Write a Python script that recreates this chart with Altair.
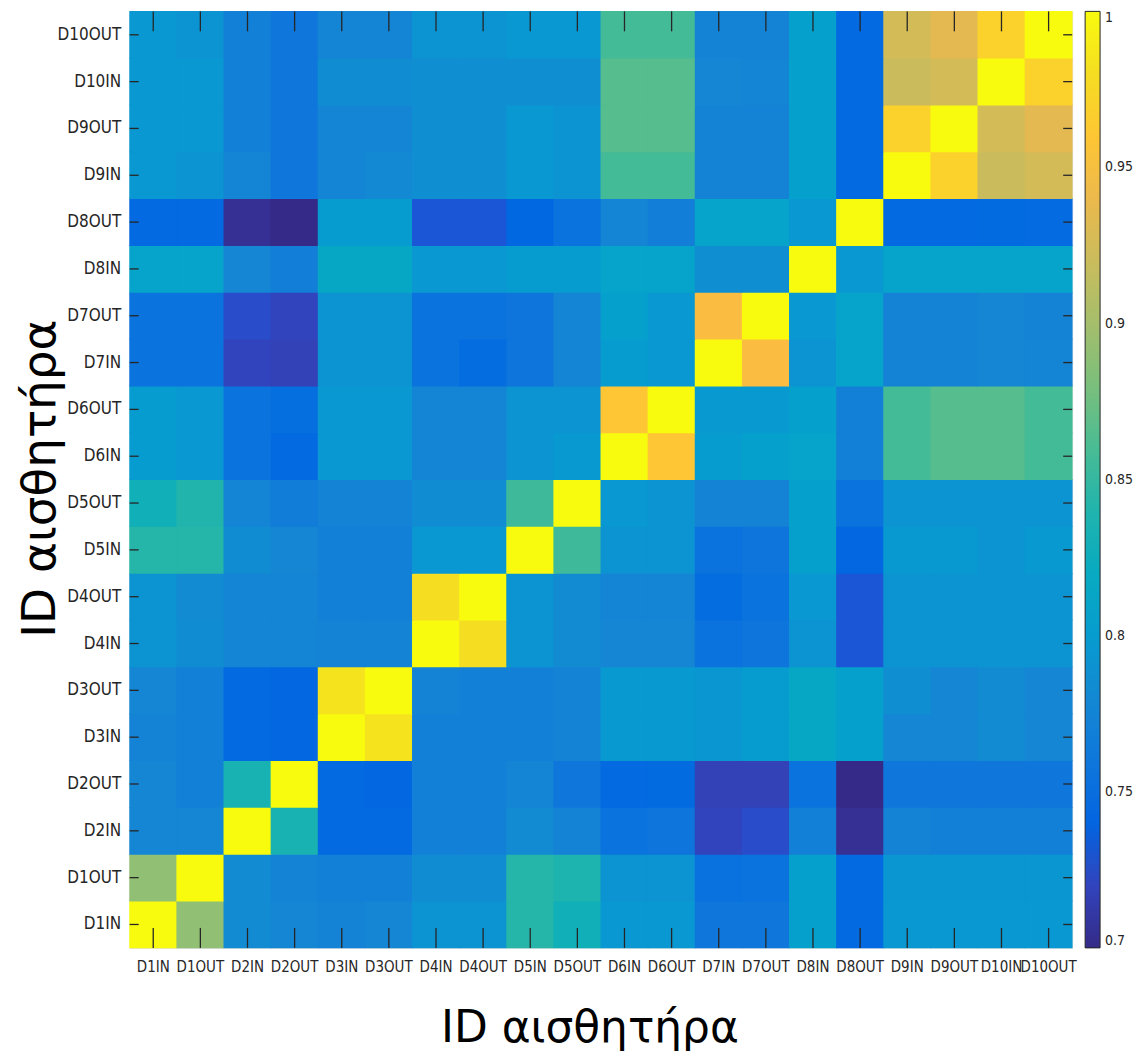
import altair as alt
import pandas as pd

sensors = ["D1IN", "D1OUT", "D2IN", "D2OUT", "D3IN", "D3OUT", "D4IN", "D4OUT",
           "D5IN", "D5OUT", "D6IN", "D6OUT", "D7IN", "D7OUT", "D8IN", "D8OUT",
           "D9IN", "D9OUT", "D10IN", "D10OUT"]

r_D1IN = [1.0, 0.89, 0.783, 0.777, 0.773, 0.777, 0.79, 0.79, 0.843, 0.83, 0.795, 0.795, 0.76, 0.76, 0.805, 0.745, 0.795, 0.795, 0.795, 0.795]
r_D1OUT = [0.89, 1.0, 0.783, 0.773, 0.77, 0.77, 0.785, 0.785, 0.843, 0.838, 0.79, 0.79, 0.753, 0.755, 0.805, 0.745, 0.793, 0.793, 0.793, 0.793]
r_D2IN = [0.777, 0.777, 1.0, 0.835, 0.745, 0.745, 0.77, 0.77, 0.783, 0.773, 0.755, 0.757, 0.72, 0.725, 0.77, 0.705, 0.773, 0.77, 0.77, 0.77]
r_D2OUT = [0.777, 0.77, 0.835, 1.0, 0.745, 0.742, 0.77, 0.77, 0.776, 0.76, 0.745, 0.746, 0.718, 0.718, 0.755, 0.70, 0.76, 0.76, 0.76, 0.76]
r_D3IN = [0.773, 0.77, 0.745, 0.742, 1.0, 0.985, 0.77, 0.77, 0.77, 0.773, 0.797, 0.797, 0.793, 0.80, 0.815, 0.805, 0.777, 0.777, 0.783, 0.777]
r_D3OUT = [0.777, 0.77, 0.745, 0.742, 0.985, 1.0, 0.773, 0.77, 0.77, 0.773, 0.797, 0.797, 0.793, 0.80, 0.815, 0.805, 0.787, 0.777, 0.783, 0.777]
r_D4IN = [0.79, 0.785, 0.775, 0.775, 0.773, 0.773, 1.0, 0.98, 0.79, 0.783, 0.777, 0.777, 0.755, 0.757, 0.79, 0.73, 0.79, 0.79, 0.79, 0.79]
r_D4OUT = [0.79, 0.783, 0.775, 0.775, 0.77, 0.77, 0.98, 1.0, 0.79, 0.783, 0.775, 0.775, 0.748, 0.755, 0.795, 0.73, 0.79, 0.79, 0.79, 0.79]
r_D5IN = [0.843, 0.843, 0.785, 0.777, 0.77, 0.77, 0.795, 0.795, 1.0, 0.855, 0.79, 0.79, 0.755, 0.757, 0.805, 0.742, 0.797, 0.797, 0.79, 0.797]
r_D5OUT = [0.83, 0.84, 0.775, 0.767, 0.773, 0.773, 0.785, 0.785, 0.855, 1.0, 0.795, 0.79, 0.773, 0.773, 0.805, 0.755, 0.79, 0.79, 0.79, 0.79]
r_D6IN = [0.80, 0.795, 0.755, 0.745, 0.795, 0.795, 0.775, 0.775, 0.79, 0.797, 1.0, 0.96, 0.80, 0.805, 0.81, 0.77, 0.858, 0.865, 0.865, 0.858]
r_D6OUT = [0.80, 0.795, 0.755, 0.75, 0.795, 0.795, 0.775, 0.775, 0.79, 0.79, 0.96, 1.0, 0.797, 0.797, 0.805, 0.77, 0.858, 0.865, 0.865, 0.858]
r_D7IN = [0.755, 0.755, 0.72, 0.718, 0.79, 0.79, 0.755, 0.748, 0.757, 0.775, 0.80, 0.795, 1.0, 0.95, 0.79, 0.81, 0.773, 0.773, 0.777, 0.775]
r_D7OUT = [0.755, 0.755, 0.725, 0.72, 0.79, 0.79, 0.755, 0.755, 0.757, 0.775, 0.805, 0.795, 0.95, 1.0, 0.795, 0.81, 0.773, 0.773, 0.777, 0.773]
r_D8IN = [0.81, 0.81, 0.777, 0.768, 0.815, 0.815, 0.795, 0.795, 0.80, 0.80, 0.808, 0.808, 0.787, 0.787, 1.0, 0.795, 0.81, 0.81, 0.81, 0.81]
r_D8OUT = [0.745, 0.745, 0.705, 0.70, 0.80, 0.80, 0.73, 0.73, 0.743, 0.755, 0.775, 0.768, 0.81, 0.81, 0.795, 1.0, 0.745, 0.745, 0.746, 0.747]
r_D9IN = [0.795, 0.79, 0.775, 0.76, 0.775, 0.78, 0.787, 0.787, 0.795, 0.79, 0.858, 0.858, 0.773, 0.773, 0.805, 0.745, 1.0, 0.97, 0.92, 0.925]
r_D9OUT = [0.795, 0.795, 0.77, 0.76, 0.775, 0.775, 0.787, 0.787, 0.795, 0.79, 0.865, 0.865, 0.773, 0.773, 0.805, 0.745, 0.97, 1.0, 0.925, 0.935]
r_D10IN = [0.795, 0.795, 0.77, 0.76, 0.785, 0.785, 0.787, 0.787, 0.787, 0.787, 0.865, 0.865, 0.777, 0.775, 0.805, 0.745, 0.92, 0.925, 1.0, 0.97]
r_D10OUT = [0.795, 0.79, 0.77, 0.76, 0.775, 0.775, 0.79, 0.79, 0.795, 0.795, 0.858, 0.858, 0.773, 0.773, 0.805, 0.745, 0.925, 0.935, 0.97, 1.0]

rows = [r_D1IN, r_D1OUT, r_D2IN, r_D2OUT, r_D3IN, r_D3OUT, r_D4IN, r_D4OUT,
        r_D5IN, r_D5OUT, r_D6IN, r_D6OUT, r_D7IN, r_D7OUT, r_D8IN, r_D8OUT,
        r_D9IN, r_D9OUT, r_D10IN, r_D10OUT]

colorbar_ticks = [0.7, 0.75, 0.8, 0.85, 0.9, 0.95, 1.0]

# MATLAB parula colormap (64 entries)
PARULA = [[0.2081, 0.1663, 0.5292], [0.2116, 0.1898, 0.5777], [0.2123, 0.2138, 0.6270], [0.2081, 0.2386, 0.6771],
          [0.1959, 0.2645, 0.7279], [0.1707, 0.2919, 0.7792], [0.1253, 0.3242, 0.8303], [0.0591, 0.3598, 0.8683],
          [0.0117, 0.3875, 0.8820], [0.0060, 0.4086, 0.8828], [0.0165, 0.4266, 0.8786], [0.0329, 0.4430, 0.8720],
          [0.0498, 0.4586, 0.8641], [0.0629, 0.4737, 0.8554], [0.0723, 0.4887, 0.8467], [0.0779, 0.5040, 0.8384],
          [0.0793, 0.5200, 0.8312], [0.0749, 0.5375, 0.8263], [0.0641, 0.5570, 0.8240], [0.0488, 0.5772, 0.8228],
          [0.0343, 0.5966, 0.8199], [0.0265, 0.6137, 0.8135], [0.0239, 0.6287, 0.8038], [0.0231, 0.6418, 0.7913],
          [0.0228, 0.6535, 0.7768], [0.0267, 0.6642, 0.7607], [0.0384, 0.6743, 0.7436], [0.0590, 0.6838, 0.7254],
          [0.0843, 0.6928, 0.7062], [0.1133, 0.7015, 0.6859], [0.1453, 0.7098, 0.6646], [0.1801, 0.7177, 0.6424],
          [0.2178, 0.7250, 0.6193], [0.2586, 0.7317, 0.5954], [0.3022, 0.7376, 0.5712], [0.3482, 0.7424, 0.5473],
          [0.3953, 0.7459, 0.5244], [0.4420, 0.7481, 0.5033], [0.4871, 0.7491, 0.4840], [0.5300, 0.7491, 0.4661],
          [0.5709, 0.7485, 0.4494], [0.6099, 0.7473, 0.4337], [0.6473, 0.7456, 0.4188], [0.6834, 0.7435, 0.4044],
          [0.7184, 0.7411, 0.3905], [0.7525, 0.7384, 0.3768], [0.7858, 0.7356, 0.3633], [0.8185, 0.7327, 0.3498],
          [0.8507, 0.7299, 0.3360], [0.8824, 0.7274, 0.3217], [0.9139, 0.7258, 0.3063], [0.9450, 0.7261, 0.2886],
          [0.9739, 0.7314, 0.2666], [0.9938, 0.7455, 0.2403], [0.9990, 0.7653, 0.2164], [0.9955, 0.7861, 0.1967],
          [0.9880, 0.8066, 0.1794], [0.9789, 0.8271, 0.1633], [0.9697, 0.8481, 0.1475], [0.9626, 0.8705, 0.1309],
          [0.9589, 0.8949, 0.1132], [0.9598, 0.9218, 0.0948], [0.9661, 0.9514, 0.0755], [0.9763, 0.9831, 0.0538]]
parula_hex = ["#%02x%02x%02x" % tuple(int(round(c * 255)) for c in rgb) for rgb in PARULA]
vmin, vmax = 0.7, 1.0
parula_domain = [vmin + (vmax - vmin) * i / (len(PARULA) - 1) for i in range(len(PARULA))]

records = []
for rname, rvals in zip(sensors, rows):
    for cname, v in zip(sensors, rvals):
        records.append({"row": rname, "col": cname, "value": v})
df = pd.DataFrame(records)
tick_df = pd.DataFrame({"s": sensors})

W, H = 945, 939
ylab_order = list(reversed(sensors))
xscale = alt.Scale(type="band", domain=sensors, paddingInner=0, paddingOuter=0)
yscale = alt.Scale(type="band", domain=ylab_order, paddingInner=0, paddingOuter=0)

LABEL_FONT = "Liberation Sans Narrow, DejaVu Sans Condensed, Liberation Sans"
TITLE = "ID αισθητήρα"

# cells are drawn a hair larger than their band so that no light seams show between them
heat = alt.Chart(df).mark_rect(width=W / 20 + 0.8, height=H / 20 + 0.8).encode(
    x=alt.X("col:N", scale=xscale, sort=sensors,
            axis=alt.Axis(title=TITLE, labelAngle=0, tickSize=0, domain=False,
                          labelFont=LABEL_FONT, labelFontSize=15, labelColor="#262626",
                          labelPadding=12, titleFont="DejaVu Sans", titleFontSize=44,
                          titleFontWeight="normal", titleColor="#000000", titlePadding=32,
                          titleX=461)),
    y=alt.Y("row:N", scale=yscale, sort=ylab_order,
            axis=alt.Axis(title=TITLE, tickSize=0, domain=False,
                          labelFont=LABEL_FONT, labelFontSize=17, labelColor="#262626",
                          labelPadding=9, titleFont="DejaVu Sans", titleFontSize=47,
                          titleFontWeight="normal", titleColor="#000000",
                          titleX=-89, titleY=468, titleAngle=270, titleAlign="center",
                          titleBaseline="middle")),
    color=alt.Color("value:Q",
                    scale=alt.Scale(domain=parula_domain, range=parula_hex, interpolate="rgb"),
                    legend=alt.Legend(type="gradient", title=None, values=colorbar_ticks, format="~g",
                                      gradientLength=H, gradientThickness=15,
                                      gradientStrokeColor="#262626", gradientStrokeWidth=1,
                                      labelFont=LABEL_FONT, labelFontSize=14, labelColor="#262626",
                                      labelOffset=5, offset=13, padding=0)),
)

tick_style = dict(color="#262626", strokeWidth=1.3)
t_bottom = alt.Chart(tick_df).mark_rule(**tick_style).encode(
    x=alt.X("s:N", scale=xscale, sort=sensors), y=alt.value(H), y2=alt.value(H - 20))
t_top = alt.Chart(tick_df).mark_rule(**tick_style).encode(
    x=alt.X("s:N", scale=xscale, sort=sensors), y=alt.value(0), y2=alt.value(20))
t_left = alt.Chart(tick_df).mark_rule(**tick_style).encode(
    y=alt.Y("s:N", scale=yscale, sort=ylab_order), x=alt.value(0), x2=alt.value(9))
t_right = alt.Chart(tick_df).mark_rule(**tick_style).encode(
    y=alt.Y("s:N", scale=yscale, sort=ylab_order), x=alt.value(W - 9), x2=alt.value(W))

chart = alt.layer(heat, t_bottom, t_top, t_left, t_right).properties(
    width=W, height=H, padding={"left": 9, "top": 1, "right": 0, "bottom": 0}
).configure_view(stroke="#262626", strokeWidth=1.2, clip=False).configure(background="white")

chart.save("out.html", embed_options={"renderer": "svg", "actions": False})
